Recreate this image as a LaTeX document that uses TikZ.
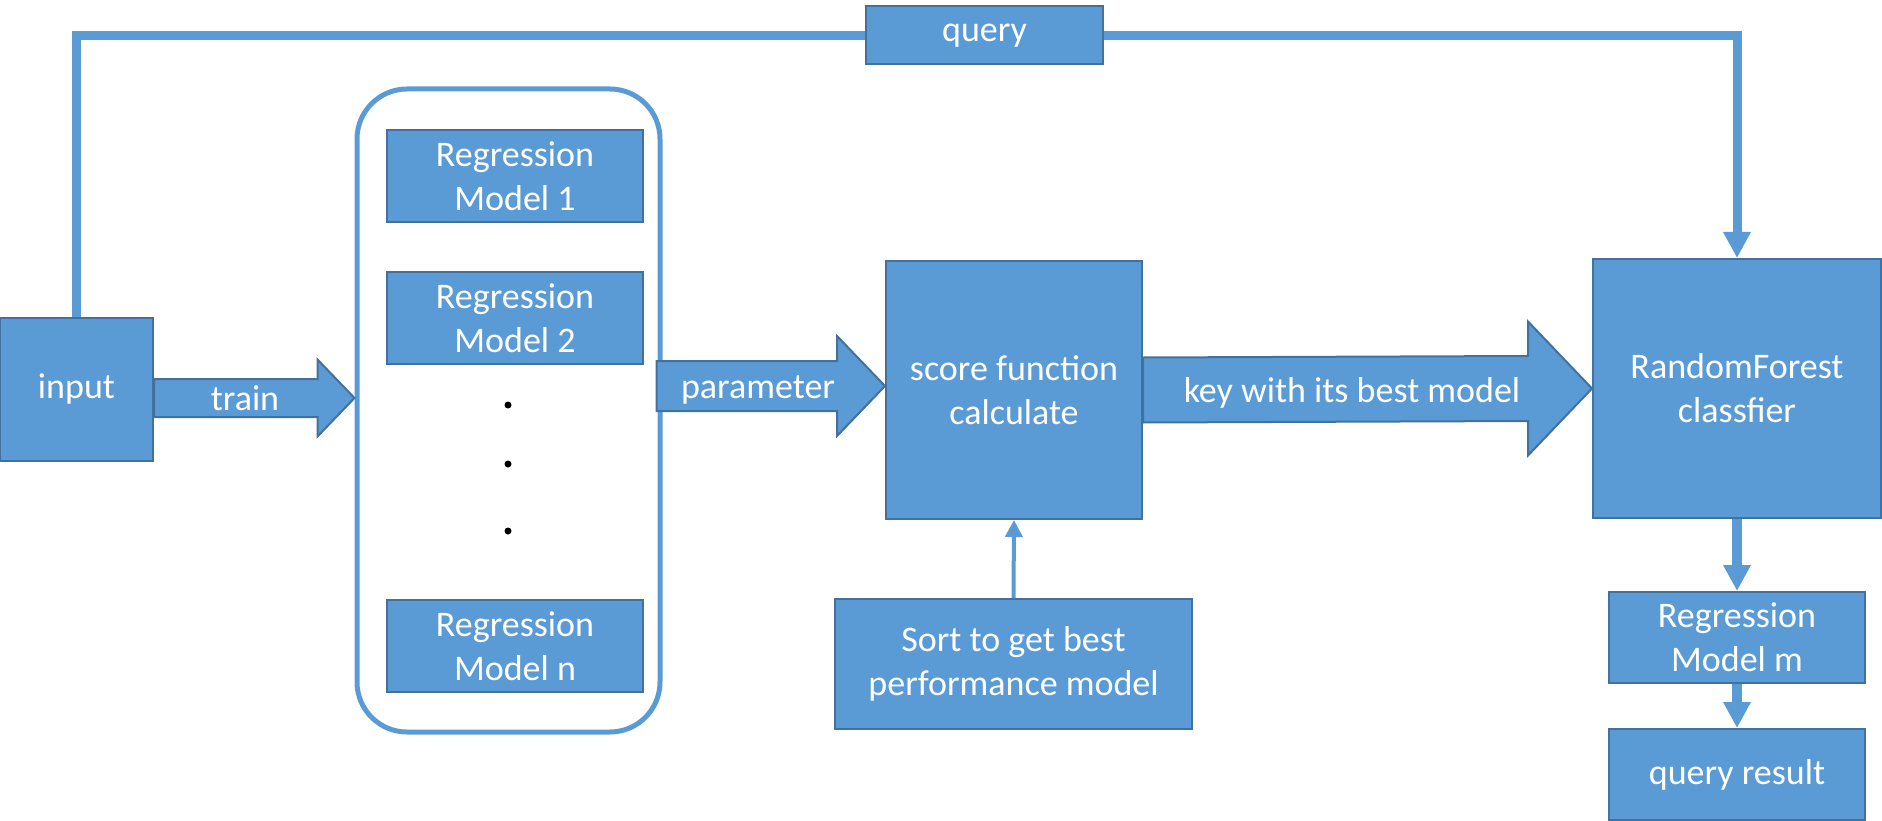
\documentclass[tikz,border=0pt]{standalone}
\usepackage{fontspec}
\setmainfont{Carlito}
\usetikzlibrary{arrows.meta,calc}
\definecolor{boxblue}{HTML}{5B9BD5}
\definecolor{boxedge}{HTML}{41719C}
\tikzset{
  blk/.style={fill=boxblue,draw=boxedge,line width=2pt},
  box/.style={blk,text=white,align=center,inner sep=0pt,font=\fontsize{36}{44}\selectfont},
  lbl/.style={text=white,inner sep=0pt,anchor=base,font=\fontsize{36}{44}\selectfont},
  link/.style={draw=boxblue,line width=9pt},
  tip/.style={-{Triangle[width=26pt,length=26pt]}}
}
% block arrow: from, to, shaft half, head half, head length
\newcommand{\blockarr}[5]{%
  \draw[blk] ($(#1)+(0,#3)$) -- ($(#2)+(-#5,#3)$) -- ($(#2)+(-#5,#4)$) -- (#2)
    -- ($(#2)+(-#5,-#4)$) -- ($(#2)+(-#5,-#3)$) -- ($(#1)+(0,-#3)$) -- cycle;}
\begin{document}
\begin{tikzpicture}[x=1pt,y=1pt]
\useasboundingbox (0,0) rectangle (1882,-821);
\node[box,minimum width=153pt,minimum height=143pt] (input) at (76.5,-389.5) {input};
\node[box,minimum width=237pt,minimum height=58pt] (query) at (984.5,-35.5) {query};
\node[draw=boxblue,line width=5pt,rounded corners=50pt,minimum width=303pt,minimum height=643pt] (models) at (508.5,-410.5) {};
\node[box,minimum width=256pt,minimum height=92pt] (rm1) at (515,-176) {Regression\\Model 1};
\node[box,minimum width=256pt,minimum height=92pt] (rm2) at (515,-318) {Regression\\Model 2};
\node[box,minimum width=256pt,minimum height=92pt] (rmn) at (515,-646) {Regression\\Model n};
\fill \foreach \y in {405,464,531} {(508,-\y) circle (3.5pt)};
\node[box,minimum width=256pt,minimum height=258pt] (score) at (1014,-390) {score function\\calculate};
\node[box,minimum width=357pt,minimum height=130pt] (sort) at (1013.5,-664) {Sort to get best\\performance model};
\node[box,minimum width=288pt,minimum height=259pt] (rf) at (1737,-388.5) {RandomForest\\classfier};
\node[box,minimum width=256pt,minimum height=91pt] (rmm) at (1737,-637.5) {Regression\\Model m};
\node[box,minimum width=256pt,minimum height=91pt] (qr) at (1737,-774.5) {query result};

% query line over the top
\draw[link] (input.north) -- (input.north |- query.west) -- (query.west);
\draw[link,tip] (query.east) -- (query.east -| rf.north) -- (rf.north);

% block arrows
\coordinate (ta) at ($(input.east)+(0,-8.5)$);
\coordinate (tb) at ($(models.west)+(0,12.5)$);
\blockarr{ta}{tb}{19}{38.5}{37}
\node[lbl] (train) at (245,-410) {train};
\coordinate (pa) at ($(models.east)+(-6,24.5)$);
\coordinate (pb) at ($(score.west)+(0,4)$);
\blockarr{pa}{pb}{25}{50}{48}
\node[lbl] (param) at (758,-398) {parameter};
\blockarr{score.east}{rf.west}{32.5}{67}{64}
\node[lbl] (key) at (1352,-402) {key with its best model};

\draw[link,line width=4pt,-{Triangle[width=17pt,length=17pt]}] (sort.north) -- (score.south);
\draw[link,line width=10pt,tip] (rf.south) -- (rmm.north);
\draw[link,line width=10pt,tip] (rmm.south) -- (qr.north);
\end{tikzpicture}
\end{document}
